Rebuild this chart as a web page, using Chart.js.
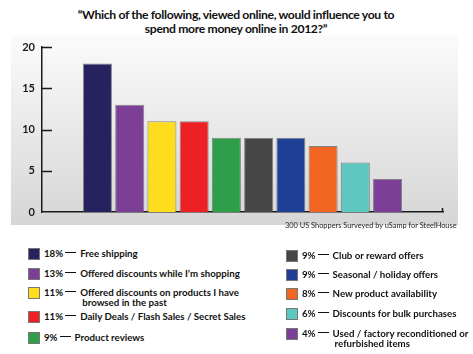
<!DOCTYPE html>
<html>
<head>
<meta charset="utf-8">
<script src="https://cdn.jsdelivr.net/npm/chart.js@4.4.1/dist/chart.umd.min.js"></script>
<style>
  body { margin: 0; background: #fff; font-family: Lato, "Open Sans", sans-serif; }
  #wrap { position: relative; width: 473px; height: 354px; overflow: hidden; }
  #bg { position: absolute; left: 11px; top: 35px; width: 447px; height: 190px;
        background: linear-gradient(#fbfbfb, #d6d6d6); }
  #title { position: absolute; left: 0; top: 8px; width: 472px; text-align: center;
           font-weight: bold; font-size: 12.2px; letter-spacing: -0.35px; line-height: 14px; color: #111; }
  canvas { position: absolute; left: 0; top: 0; }
  #source { position: absolute; left: 285px; top: 221px; font-size: 7.4px; color: #222; white-space: nowrap; }
  .leg { position: absolute; font-size: 9.7px; font-weight: bold; color: #111; line-height: 10px; }
  .leg .box { position: absolute; left: 0; top: 0; width: 10px; height: 10px; border: 1px solid #777; }
  .leg .txt { position: absolute; left: 16px; top: 0; white-space: nowrap; display: flex; }
  .leg .dash { display: inline-block; width: 11px; height: 0; border-top: 1.3px solid #111;
               margin: 4px 4px 0 2px; }
  .leg .cont { display: block; padding-left: 2px; }
</style>
</head>
<body>
<div id="wrap">
  <div id="bg"></div>
  <div id="title">“Which of the following, viewed online, would influence you to<br>spend more money online in 2012?”</div>
  <canvas id="chart" width="473" height="230"></canvas>
  <div id="source">300 US Shoppers Surveyed by uSamp for SteelHouse</div>
  <div id="legend"></div>
</div>
<script>
const categories = [
  'Free shipping',
  'Offered discounts while I’m shopping',
  'Offered discounts on products I have|browsed in the past',
  'Daily Deals / Flash Sales / Secret Sales',
  'Product reviews',
  'Club or reward offers',
  'Seasonal / holiday offers',
  'New product availability',
  'Discounts for bulk purchases',
  'Used / factory reconditioned or|refurbished items'
];
const percents = [18, 13, 11, 11, 9, 9, 9, 8, 6, 4];
const colors = ['#26215f', '#7b3f98', '#fddd1d', '#ed2024', '#2e9e4a',
                '#464646', '#1f3f96', '#f26522', '#5ec8c0', '#7b3f98'];
const yTicks = [0, 5, 10, 15, 20];

// legend rows: [left, top] for each item
const legendPos = [
  [28, 248], [28, 268], [28, 287], [28, 311], [28, 332],
  [286, 250], [286, 269], [286, 288], [286, 308], [286, 328]
];

const legend = document.getElementById('legend');
categories.forEach((cat, i) => {
  const parts = cat.split('|');
  const d = document.createElement('div');
  d.className = 'leg';
  d.style.left = legendPos[i][0] + 'px';
  d.style.top = legendPos[i][1] + 'px';
  let html = `<span class="box" style="background:${colors[i]}"></span>`;
  html += `<span class="txt"><span>${percents[i]}%</span><span class="dash"></span><span>${parts[0]}`;
  if (parts[1]) html += `<span class="cont">${parts[1]}</span>`;
  html += '</span></span>';
  d.innerHTML = html;
  legend.appendChild(d);
});

const axisExtras = {
  id: 'axisExtras',
  afterDraw(chart) {
    const ctx = chart.ctx;
    const y = chart.scales.y, x = chart.scales.x;
    ctx.save();
    ctx.strokeStyle = '#1a1a1a';
    ctx.lineWidth = 1.5;
    yTicks.forEach(v => {
      if (v === 0) return;
      const py = Math.round(y.getPixelForValue(v)) + 0.5;
      ctx.beginPath();
      ctx.moveTo(x.left, py);
      ctx.lineTo(x.left + 10, py);
      ctx.stroke();
    });
    // small end tick on the x axis
    const py0 = y.getPixelForValue(0);
    ctx.beginPath();
    ctx.moveTo(x.right - 0.5, py0);
    ctx.lineTo(x.right - 0.5, py0 - 4);
    ctx.stroke();
    ctx.restore();
  }
};

new Chart(document.getElementById('chart').getContext('2d'), {
  type: 'bar',
  data: {
    datasets: [{
      data: percents.map((v, i) => ({ x: i, y: v })),
      backgroundColor: colors,
      borderColor: 'rgba(90,90,90,0.7)',
      borderWidth: 1,
      barPercentage: 0.9,
      categoryPercentage: 1.0
    }]
  },
  options: {
    responsive: false,
    animation: false,
    layout: { padding: { left: 0, right: 30, top: 47, bottom: 18 } },
    plugins: { legend: { display: false }, tooltip: { enabled: false } },
    scales: {
      x: {
        type: 'linear',
        min: -1.72,
        max: 10.72,
        offset: false,
        grid: { display: false, drawTicks: false },
        border: { display: true, color: '#1a1a1a', width: 1.5 },
        ticks: { display: false },
        afterFit: s => { s.height = 0; }
      },
      y: {
        min: 0,
        max: 20,
        grid: { display: false, drawTicks: false },
        border: { display: true, color: '#1a1a1a', width: 1.5 },
        ticks: {
          stepSize: 5,
          padding: 7,
          color: '#1a1a1a',
          font: { family: 'Lato', size: 11, weight: 'bold' }
        },
        afterFit: s => { s.width = 42; }
      }
    }
  },
  plugins: [axisExtras]
});
</script>
</body>
</html>
